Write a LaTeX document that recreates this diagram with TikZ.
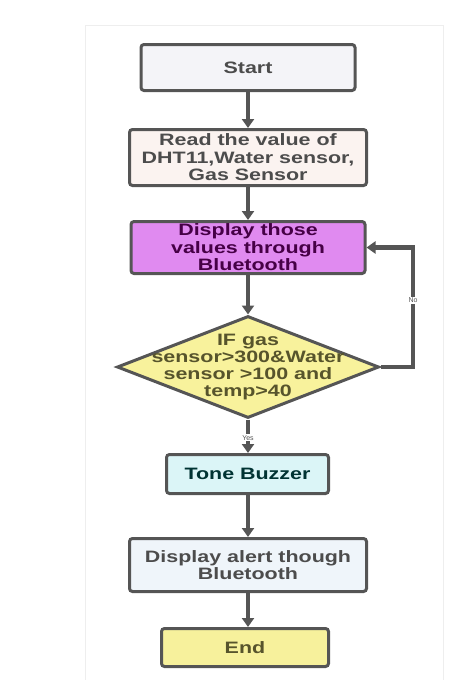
\documentclass[tikz,border=0pt]{standalone}
\usepackage{fontspec}
\setmainfont{Liberation Sans}
\newfontfamily\boxfont{Liberation Sans}[FakeStretch=1.3]
\usetikzlibrary{arrows.meta,shapes.geometric}

\definecolor{edgegray}{HTML}{555555}
\definecolor{startfill}{HTML}{F4F4F8}
\definecolor{readfill}{HTML}{FBF3F0}
\definecolor{dispfill}{HTML}{E08AF0}
\definecolor{condfill}{HTML}{F8F29C}
\definecolor{tonefill}{HTML}{DBF5F7}
\definecolor{alertfill}{HTML}{EFF5FA}
\definecolor{endfill}{HTML}{F7F19C}
\definecolor{panelgray}{HTML}{EEEEEE}

\begin{document}
\begin{tikzpicture}[x=1pt,y=-1pt,
    stepbox/.style={draw=edgegray, line width=3pt, rounded corners=3pt, inner sep=0pt,
      align=center, font=\boxfont\bfseries\fontsize{16.5}{17.5}\selectfont},
    decision/.style={diamond, draw=edgegray, line width=3pt, fill=condfill, inner sep=0pt,
      minimum width=262pt, minimum height=102pt},
    flow/.style={draw=edgegray, line width=4.5pt, -{Triangle[width=12pt,length=9pt]}},
    tag/.style={fill=white, inner sep=1pt, text=edgegray, font=\fontsize{7}{8}\selectfont}]
  \useasboundingbox (0,0) rectangle (474,680);
  % faint panel behind the chart
  \draw[panelgray, line width=1pt] (85,25) rectangle (443,684);

  \node[stepbox, fill=startfill, text=black!70, minimum width=214pt, minimum height=46pt]
    (start) at (248,67.5) {Start};
  \node[stepbox, fill=readfill, text=black!70, minimum width=237pt, minimum height=56pt]
    (read) at (248,157.5) {Read the value of\\DHT11,Water sensor,\\Gas Sensor};
  \node[stepbox, fill=dispfill, text=violet!55!black, minimum width=234pt, minimum height=52pt]
    (disp) at (248,247.5) {Display those\\values through\\Bluetooth};
  \node[decision] (cond) at (248,367) {};
  \node[align=center, inner sep=0pt, text=olive!50!black,
    font=\boxfont\bfseries\fontsize{16.5}{17}\selectfont]
    (condtxt) at (cond.center) {IF gas\\sensor>300\&Water\\sensor >100 and\\temp>40};
  \node[stepbox, fill=tonefill, text=teal!40!black, minimum width=162pt, minimum height=39pt]
    (tone) at (247.5,474) {Tone Buzzer};
  \node[stepbox, fill=alertfill, text=black!70, minimum width=237pt, minimum height=53pt]
    (alert) at (248,565) {Display alert though\\Bluetooth};
  \node[stepbox, fill=endfill, text=olive!50!black, minimum width=167pt, minimum height=38pt]
    (end) at (245,647.5) {End};

  \coordinate (loopdn) at (413,367);
  \draw[flow] (start) -- (read);
  \draw[flow] (read) -- (disp);
  \draw[flow] (disp) -- (cond);
  \draw[flow] (cond.south) -- node[tag, pos=0.55]{Yes} (cond.south |- tone.north);
  \draw[flow] (cond.east) -- (loopdn) |- node[tag, pos=0.28]{No} (disp.east);
  \draw[flow] (tone.south -| alert) -- (alert);
  \draw[flow] (alert.south) -- (alert.south |- end.north);
\end{tikzpicture}
\end{document}
